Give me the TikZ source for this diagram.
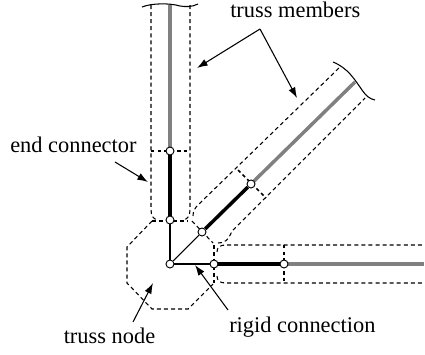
\documentclass[tikz,border=0pt]{standalone}
\usepackage{fontspec}
\setmainfont{Liberation Serif}
\usetikzlibrary{arrows.meta}
\tikzset{
 x=0.75pt,y=-0.75pt,
 lab/.style={inner sep=0pt,anchor=base west,font=\fontsize{16.8pt}{19pt}\selectfont},
 dsh/.style={draw=black,line width=0.8pt,dash pattern=on 3pt off 2.3pt},
 dvd/.style={draw=black,line width=1.1pt,dash pattern=on 2.6pt off 2.3pt},
 joint/.style={circle,draw=black,fill=white,line width=0.7pt,minimum size=6pt,inner sep=0pt},
 mem/.style={draw=black!50,line width=2.6pt},
 conn/.style={draw=black,line width=2.6pt},
 rigid/.style={draw=black,line width=0.8pt},
 ptr/.style={draw=black,line width=0.8pt,-{Latex[length=8pt,width=5.5pt]}},
 brk/.style={draw=black,line width=0.8pt}
}
\begin{document}
\begin{tikzpicture}
\useasboundingbox (0,0) rectangle (425,354);
% octagon
\draw[dsh] (152,221) -- (127,247) -- (127,283) -- (152,309) -- (188,309) -- (213,284);
\draw[dsh] (152,221) -- (188,221);
% vertical envelope
\draw[dsh] (151,5) -- (151,209) .. controls (151,216) and (153,219) .. (158,220);
\draw[dsh] (190,5) -- (190,209) .. controls (190,216) and (188,219) .. (183,220);
\draw[dvd] (151,151) -- (190,151);
\draw[brk] (142,7) .. controls (152,3) and (170,3) .. (180,6) .. controls (186,7) and (192,7) .. (198,4);
% diagonal envelope
\draw[dsh] (193,216) .. controls (193,211) and (195,208) .. (198,205) -- (340,67);
\draw[dsh] (218,243) .. controls (224,243) and (228,241) .. (232,231) -- (365,98);
\draw[dsh] (192,221) -- (213,243);
\draw[dvd] (238,170) -- (266,198);
\draw[brk] (333,62) .. controls (348,68) and (355,80) .. (362,90) .. controls (366,96) and (370,99) .. (375,100);
% horizontal envelope
\draw[dsh] (217,252) .. controls (217,247) and (220,245) .. (226,245) -- (424,245);
\draw[dsh] (217,276) .. controls (217,281) and (220,283) .. (226,283) -- (424,283);
\draw[dsh] (214,245) -- (214,283);
\draw[dvd] (284,245) -- (284,283);
% members
\draw[mem] (170,5) -- (170,151);
\draw[mem] (251,184) -- (355,82);
\draw[mem] (284,264) -- (424,264);
% joints and links
\node[joint] (n0) at (170,264) {};
\node[joint] (a1) at (170,220) {};
\node[joint] (a2) at (170,151) {};
\node[joint] (b1) at (202,232) {};
\node[joint] (b2) at (251,184) {};
\node[joint] (c1) at (214,264) {};
\node[joint] (c2) at (284,264) {};
\draw[rigid] (n0) -- (a1);
\draw[rigid] (n0) -- (b1);
\draw[rigid] (n0) -- (c1);
\draw[conn] (a1) -- (a2);
\draw[conn] (b1) -- (b2);
\draw[conn] (c1) -- (c2);
% labels
\node[lab] (t1) at (230,17) {truss members};
\node[lab] (t2) at (10,152) {end connector};
\node[lab] (t3) at (63.5,343) {truss node};
\node[lab] (t4) at (229,332) {rigid connection};
% pointers
\coordinate (j) at (260,29);
\coordinate (e1) at (197,68);
\coordinate (e2) at (297,98);
\coordinate (s2) at (115,162);
\coordinate (e3) at (148,182);
\coordinate (s3) at (133,322);
\coordinate (e4) at (153,283);
\coordinate (s4) at (228,310);
\coordinate (e5) at (195,265);
\draw[ptr] (j) -- (e1);
\draw[ptr] (j) -- (e2);
\draw[ptr] (s2) -- (e3);
\draw[ptr] (s3) -- (e4);
\draw[ptr] (s4) -- (e5);
\end{tikzpicture}
\end{document}
